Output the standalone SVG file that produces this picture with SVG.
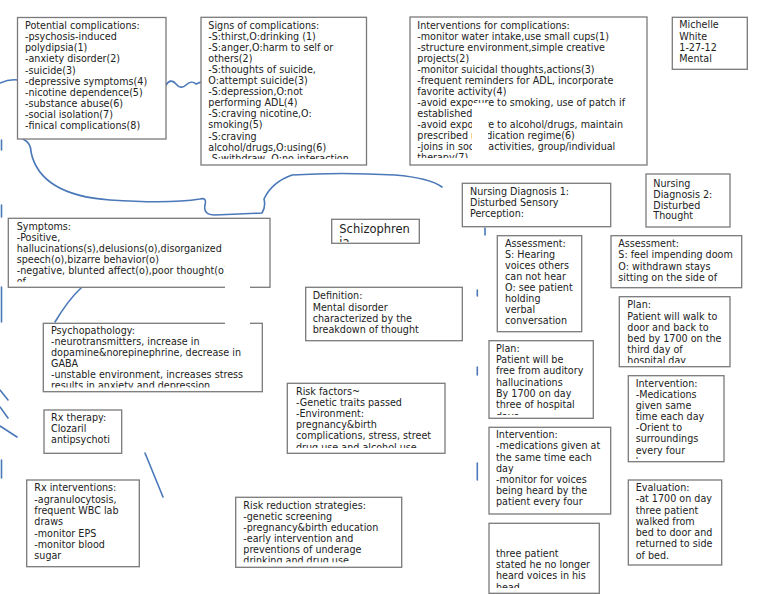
<svg xmlns="http://www.w3.org/2000/svg" width="768" height="594" viewBox="0 0 768 594">
<style>
.box{fill:#fff;stroke:#7a7a7a;stroke-width:1.3}
.t{font-family:"DejaVu Sans",sans-serif;font-size:9.6px;fill:#222}
.ln{fill:none;stroke:#4a78b8;stroke-width:1.6;stroke-linecap:round}
</style>
<defs>
<clipPath id="c2"><rect x="201" y="17" width="166" height="142"/></clipPath>
<clipPath id="c3"><rect x="410" y="17" width="237" height="141"/></clipPath>
<clipPath id="c7"><rect x="331" y="219" width="88" height="23"/></clipPath>
<clipPath id="c8"><rect x="8" y="218" width="262" height="63.7"/></clipPath>
<clipPath id="c18"><rect x="43" y="323" width="220" height="64.5"/></clipPath>
<clipPath id="c21"><rect x="287" y="383" width="158" height="65"/></clipPath>
<clipPath id="c22"><rect x="235" y="497" width="167" height="65.3"/></clipPath>
<clipPath id="c12"><rect x="489" y="340" width="105" height="75"/></clipPath>
<clipPath id="c13"><rect x="619" y="296" width="111" height="67"/></clipPath>
<clipPath id="c15"><rect x="628" y="375" width="96" height="84"/></clipPath>
<clipPath id="c17"><rect x="489" y="523" width="111" height="65"/></clipPath>
</defs>
<rect width="768" height="594" fill="#fff"/>

<g id="connectors">
<path class="ln" d="M0,83 Q9,79 17.5,80"/>
<path class="ln" d="M166,85 C169,80 173,80 176,84 S183,88 186,85 S193,81 196,84 L201,82"/>
<path class="ln" d="M1.5,140 L1.5,150 M1.5,205 L1.5,217 M1.5,287 L1.5,322 M1.5,460 L1.5,478"/>
<path class="ln" d="M23,139 Q31,143 31,152 Q40,195 110,200 Q170,204 200,199 Q207,197 205,205 Q203,215 215,215 L262,213 Q266,206 264,199 Q272,182 292,175 Q340,172 395,175 Q430,178 442,187"/>
<path class="ln" d="M0,390 L8,400 M0,407 L8,418 M0,426 L17,437"/>
<path class="ln" d="M82,287 Q68,300 55,322"/>
<path class="ln" d="M145,453 L163,497"/>
<path class="ln" d="M485,228 L485,235 M477.3,290 L477.3,296 M477.3,367 L477.3,375 M477.3,463 L477.3,480"/>
</g>

<g id="potential-complications">
<rect class="box" x="17.5" y="17.5" width="148.5" height="121.5"/>
<text class="t" x="25" y="29.3"><tspan x="25">Potential complications:</tspan><tspan x="25" dy="11.05">-psychosis-induced</tspan><tspan x="25" dy="11.05">polydipsia(1)</tspan><tspan x="25" dy="11.05">-anxiety disorder(2)</tspan><tspan x="25" dy="11.05">-suicide(3)</tspan><tspan x="25" dy="11.05">-depressive symptoms(4)</tspan><tspan x="25" dy="11.05">-nicotine dependence(5)</tspan><tspan x="25" dy="11.05">-substance abuse(6)</tspan><tspan x="25" dy="11.05">-social isolation(7)</tspan><tspan x="25" dy="11.05">-finical complications(8)</tspan></text>
</g>

<g id="signs-of-complications">
<rect class="box" x="201" y="17.3" width="165.5" height="147.7"/>
<text class="t" x="208.3" y="29" clip-path="url(#c2)"><tspan x="208.3">Signs of complications:</tspan><tspan x="208.3" dy="11.05">-S:thirst,O:drinking (1)</tspan><tspan x="208.3" dy="11.05">-S:anger,O:harm to self or</tspan><tspan x="208.3" dy="11.05">others(2)</tspan><tspan x="208.3" dy="11.05">-S:thoughts of suicide,</tspan><tspan x="208.3" dy="11.05">O:attempt suicide(3)</tspan><tspan x="208.3" dy="11.05">-S:depression,O:not</tspan><tspan x="208.3" dy="11.05">performing ADL(4)</tspan><tspan x="208.3" dy="11.05">-S:craving nicotine,O:</tspan><tspan x="208.3" dy="11.05">smoking(5)</tspan><tspan x="208.3" dy="11.05">-S:craving</tspan><tspan x="208.3" dy="11.05">alcohol/drugs,O:using(6)</tspan><tspan x="208.3" dy="11.05">-S:withdraw, O:no interaction</tspan></text>
</g>

<g id="interventions-for-complications">
<rect class="box" x="410" y="17" width="237" height="148"/>
<text class="t" x="417.3" y="28.6" clip-path="url(#c3)"><tspan x="417.3">Interventions for complications:</tspan><tspan x="417.3" dy="11.05">-monitor water intake,use small cups(1)</tspan><tspan x="417.3" dy="11.05">-structure environment,simple creative</tspan><tspan x="417.3" dy="11.05">projects(2)</tspan><tspan x="417.3" dy="11.05">-monitor suicidal thoughts,actions(3)</tspan><tspan x="417.3" dy="11.05">-frequent reminders for ADL, incorporate</tspan><tspan x="417.3" dy="11.05">favorite activity(4)</tspan><tspan x="417.3" dy="11.05">-avoid exposure to smoking, use of patch if</tspan><tspan x="417.3" dy="11.05">established(5)</tspan><tspan x="417.3" dy="11.05">-avoid exposure to alcohol/drugs, maintain</tspan><tspan x="417.3" dy="11.05">prescribed medication regime(6)</tspan><tspan x="417.3" dy="11.05">-joins in social activities, group/individual</tspan><tspan x="417.3" dy="11.05">therapy(7)</tspan></text>
<rect x="472" y="103" width="16" height="61" fill="#fff"/>
</g>

<g id="michelle-white">
<rect class="box" x="672.3" y="17.3" width="75" height="52"/>
<text class="t" x="679.3" y="28.3"><tspan x="679.3">Michelle</tspan><tspan x="679.3" dy="11.3">White</tspan><tspan x="679.3" dy="11.3">1-27-12</tspan><tspan x="679.3" dy="11.3">Mental</tspan></text>
</g>

<g id="nursing-diagnosis-2">
<rect class="box" x="646" y="174" width="84" height="53"/>
<text class="t" x="653.3" y="186.7"><tspan x="653.3">Nursing</tspan><tspan x="653.3" dy="10.9">Diagnosis 2:</tspan><tspan x="653.3" dy="10.9">Disturbed</tspan><tspan x="653.3" dy="10.9">Thought</tspan></text>
</g>

<g id="nursing-diagnosis-1">
<rect class="box" x="462.3" y="183.3" width="148.4" height="43.4"/>
<text class="t" x="470" y="195"><tspan x="470">Nursing Diagnosis 1:</tspan><tspan x="470" dy="10.9">Disturbed Sensory</tspan><tspan x="470" dy="10.9">Perception:</tspan></text>
</g>

<g id="schizophrenia">
<rect class="box" x="331.7" y="219.3" width="87.6" height="24"/>
<text x="339.3" y="232.7" clip-path="url(#c7)" style="font-family:'DejaVu Sans',sans-serif;font-size:11.5px;fill:#222"><tspan x="339.3">Schizophren</tspan><tspan x="339.3" dy="13.6">ia</tspan></text>
</g>

<g id="symptoms">
<rect class="box" x="8.3" y="218.3" width="261.7" height="69"/>
<text class="t" x="16.7" y="230" clip-path="url(#c8)"><tspan x="16.7">Symptoms:</tspan><tspan x="16.7" dy="11.05">-Positive,</tspan><tspan x="16.7" dy="11.05">hallucinations(s),delusions(o),disorganized</tspan><tspan x="16.7" dy="11.05">speech(o),bizarre behavior(o)</tspan><tspan x="16.7" dy="11.05">-negative, blunted affect(o),poor thought(o)</tspan><tspan x="16.7" dy="11.05">of</tspan></text>
</g>

<g id="definition">
<rect class="box" x="305.7" y="287.3" width="156.6" height="53.4"/>
<text class="t" x="312.7" y="299.3"><tspan x="312.7">Definition:</tspan><tspan x="312.7" dy="11.33">Mental disorder</tspan><tspan x="312.7" dy="11.33">characterized by the</tspan><tspan x="312.7" dy="11.33">breakdown of thought</tspan></text>
</g>

<g id="assessment-1">
<rect class="box" x="497.3" y="235.7" width="84.4" height="96"/>
<text class="t" x="505" y="247"><tspan x="505">Assessment:</tspan><tspan x="505" dy="11.05">S: Hearing</tspan><tspan x="505" dy="11.05">voices others</tspan><tspan x="505" dy="11.05">can not hear</tspan><tspan x="505" dy="11.05">O: see patient</tspan><tspan x="505" dy="11.05">holding</tspan><tspan x="505" dy="11.05">verbal</tspan><tspan x="505" dy="11.05">conversation</tspan></text>
</g>

<g id="assessment-2">
<rect class="box" x="611" y="235.7" width="130.7" height="52"/>
<text class="t" x="618.3" y="246.7"><tspan x="618.3">Assessment:</tspan><tspan x="618.3" dy="11.4">S: feel impending doom</tspan><tspan x="618.3" dy="11.4">O: withdrawn stays</tspan><tspan x="618.3" dy="11.4">sitting on the side of</tspan></text>
</g>

<g id="plan-1">
<rect class="box" x="489" y="340.7" width="104.3" height="77.6"/>
<text class="t" x="496" y="351.7" clip-path="url(#c12)"><tspan x="496">Plan:</tspan><tspan x="496" dy="11.3">Patient will be</tspan><tspan x="496" dy="11.3">free from auditory</tspan><tspan x="496" dy="11.3">hallucinations</tspan><tspan x="496" dy="11.3">By 1700 on day</tspan><tspan x="496" dy="11.3">three of hospital</tspan><tspan x="496" dy="11.3">days</tspan></text>
</g>

<g id="plan-2">
<rect class="box" x="619.3" y="296.7" width="110.7" height="70"/>
<text class="t" x="627.3" y="308.3" clip-path="url(#c13)"><tspan x="627.3">Plan:</tspan><tspan x="627.3" dy="11.2">Patient will walk to</tspan><tspan x="627.3" dy="11.2">door and back to</tspan><tspan x="627.3" dy="11.2">bed by 1700 on the</tspan><tspan x="627.3" dy="11.2">third day of</tspan><tspan x="627.3" dy="11.2">hospital day</tspan></text>
</g>

<g id="intervention-1">
<rect class="box" x="489" y="427.3" width="121.7" height="86.7"/>
<text class="t" x="496" y="438.3"><tspan x="496">Intervention:</tspan><tspan x="496" dy="11.1">-medications given at</tspan><tspan x="496" dy="11.1">the same time each</tspan><tspan x="496" dy="11.1">day</tspan><tspan x="496" dy="11.1">-monitor for voices</tspan><tspan x="496" dy="11.1">being heard by the</tspan><tspan x="496" dy="11.1">patient every four</tspan></text>
</g>

<g id="intervention-2">
<rect class="box" x="628.3" y="375.7" width="95.7" height="86"/>
<text class="t" x="635.7" y="386.5" clip-path="url(#c15)"><tspan x="635.7">Intervention:</tspan><tspan x="635.7" dy="11.17">-Medications</tspan><tspan x="635.7" dy="11.17">given same</tspan><tspan x="635.7" dy="11.17">time each day</tspan><tspan x="635.7" dy="11.17">-Orient to</tspan><tspan x="635.7" dy="11.17">surroundings</tspan><tspan x="635.7" dy="11.17">every four</tspan><tspan x="635.7" dy="11.17">hours</tspan></text>
</g>

<g id="evaluation-2">
<rect class="box" x="628.3" y="480" width="93.4" height="85"/>
<text class="t" x="635.7" y="491"><tspan x="635.7">Evaluation:</tspan><tspan x="635.7" dy="11.27">-at 1700 on day</tspan><tspan x="635.7" dy="11.27">three patient</tspan><tspan x="635.7" dy="11.27">walked from</tspan><tspan x="635.7" dy="11.27">bed to door and</tspan><tspan x="635.7" dy="11.27">returned to side</tspan><tspan x="635.7" dy="11.27">of bed.</tspan></text>
</g>

<g id="evaluation-1">
<rect class="box" x="489" y="523.3" width="110.3" height="70"/>
<text class="t" x="496" y="556.7" clip-path="url(#c17)"><tspan x="496">three patient</tspan><tspan x="496" dy="11.3">stated he no longer</tspan><tspan x="496" dy="11.3">heard voices in his</tspan><tspan x="496" dy="11.3">head</tspan></text>
</g>

<g id="psychopathology">
<rect class="box" x="43.3" y="323.3" width="219" height="68.4"/>
<text class="t" x="51" y="333.8" clip-path="url(#c18)"><tspan x="51">Psychopathology:</tspan><tspan x="51" dy="11.05">-neurotransmitters, increase in</tspan><tspan x="51" dy="11.05">dopamine&amp;norepinephrine, decrease in</tspan><tspan x="51" dy="11.05">GABA</tspan><tspan x="51" dy="11.05">-unstable environment, increases stress</tspan><tspan x="51" dy="11.05">results in anxiety and depression</tspan></text>
</g>

<rect x="225" y="266" width="25" height="59" fill="#fff"/>

<g id="rx-therapy">
<rect class="box" x="44" y="410" width="77.7" height="43.3"/>
<text class="t" x="51" y="421"><tspan x="51">Rx therapy:</tspan><tspan x="51" dy="11.2">Clozaril</tspan><tspan x="51" dy="11.2">antipsychoti</tspan></text>
</g>

<g id="rx-interventions">
<rect class="box" x="26.7" y="480" width="112.6" height="86.7"/>
<text class="t" x="34.3" y="491.3"><tspan x="34.3">Rx interventions:</tspan><tspan x="34.3" dy="11.3">-agranulocytosis,</tspan><tspan x="34.3" dy="11.3">frequent WBC lab</tspan><tspan x="34.3" dy="11.3">draws</tspan><tspan x="34.3" dy="11.3">-monitor EPS</tspan><tspan x="34.3" dy="11.3">-monitor blood</tspan><tspan x="34.3" dy="11.3">sugar</tspan></text>
</g>

<g id="risk-factors">
<rect class="box" x="287.3" y="383.3" width="157.7" height="70"/>
<text class="t" x="296" y="395" clip-path="url(#c21)"><tspan x="296">Risk factors~</tspan><tspan x="296" dy="11.1">-Genetic traits passed</tspan><tspan x="296" dy="11.1">-Environment:</tspan><tspan x="296" dy="11.1">pregnancy&amp;birth</tspan><tspan x="296" dy="11.1">complications, stress, street</tspan><tspan x="296" dy="11.1">drug use and alcohol use</tspan></text>
</g>

<g id="risk-reduction">
<rect class="box" x="235.7" y="497.3" width="166" height="70"/>
<text class="t" x="243.3" y="509.3" clip-path="url(#c22)"><tspan x="243.3">Risk reduction strategies:</tspan><tspan x="243.3" dy="11">-genetic screening</tspan><tspan x="243.3" dy="11">-pregnancy&amp;birth education</tspan><tspan x="243.3" dy="11">-early intervention and</tspan><tspan x="243.3" dy="11">preventions of underage</tspan><tspan x="243.3" dy="11">drinking and drug use</tspan></text>
</g>
</svg>
